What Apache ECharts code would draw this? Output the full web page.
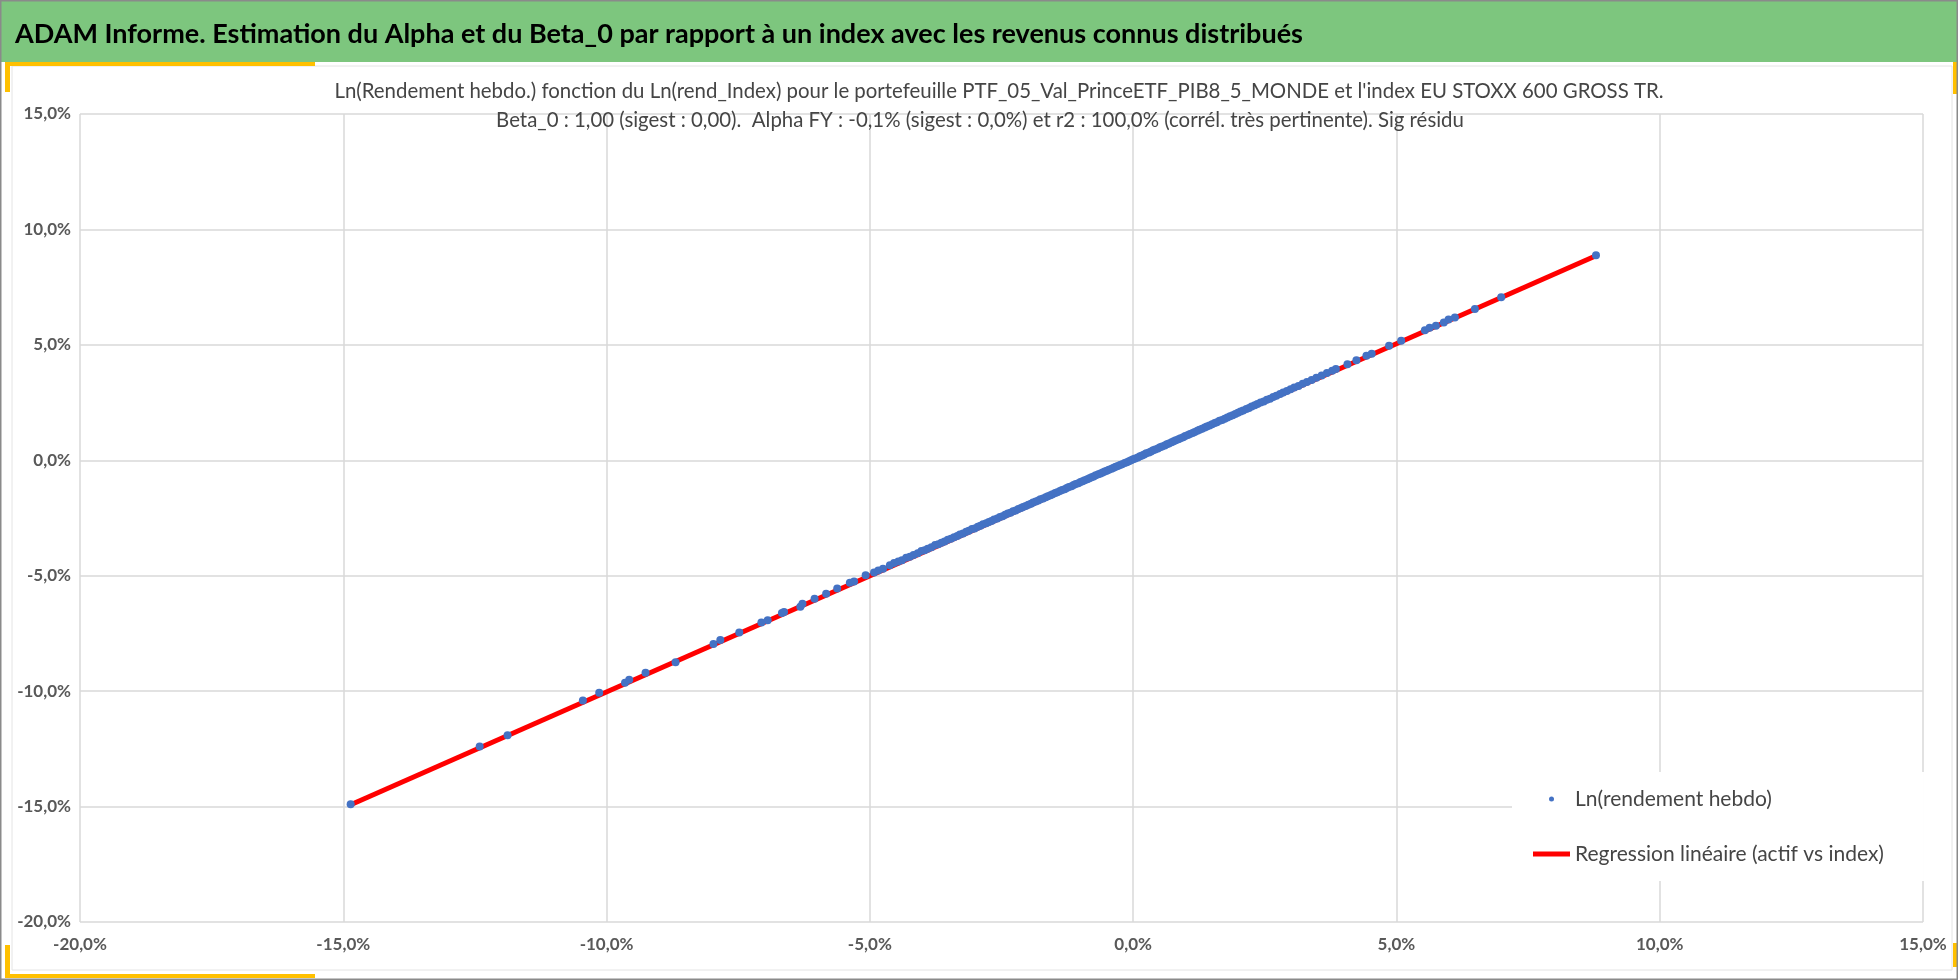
<!DOCTYPE html>
<html>
<head>
<meta charset="utf-8">
<script src="https://cdn.jsdelivr.net/npm/echarts@6/dist/echarts.min.js"></script>
<style>
  html, body { margin: 0; padding: 0; background: #fff; }
  #chart { width: 1958px; height: 980px; }
</style>
</head>
<body>
<div id="chart"></div>
<script>
// weekly log returns, in %: [index, portfolio]
const leftTail = [
  [-14.86, -14.90], [-12.41, -12.40], [-11.88, -11.91], [-10.45, -10.40], [-10.14, -10.07],
  [-9.65, -9.64], [-9.57, -9.51], [-9.26, -9.20], [-8.69, -8.75], [-7.97, -7.96],
  [-7.84, -7.79], [-7.48, -7.46], [-7.06, -7.03], [-6.94, -6.93], [-6.67, -6.62],
  [-6.63, -6.57], [-6.32, -6.34], [-6.28, -6.21], [-6.05, -6.00], [-5.83, -5.78],
  [-5.62, -5.55], [-5.38, -5.30], [-5.30, -5.25], [-5.08, -4.98], [-4.92, -4.86],
  [-4.84, -4.77], [-4.75, -4.70], [-4.62, -4.55], [-4.54, -4.45]
];
const core = [
  [-4.46, -4.38], [-4.39, -4.33], [-4.31, -4.22], [-4.24, -4.18], [-4.17, -4.10], [-4.09, -4.03],
  [-4.02, -3.93], [-3.96, -3.90], [-3.90, -3.83], [-3.83, -3.77], [-3.76, -3.67], [-3.70, -3.64],
  [-3.64, -3.57], [-3.58, -3.52], [-3.52, -3.44], [-3.46, -3.40], [-3.40, -3.33], [-3.34, -3.28],
  [-3.29, -3.21], [-3.23, -3.17], [-3.17, -3.10], [-3.12, -3.05], [-3.06, -2.98], [-3.01, -2.95],
  [-2.95, -2.88], [-2.90, -2.84], [-2.85, -2.77], [-2.79, -2.73], [-2.74, -2.67], [-2.69, -2.63],
  [-2.64, -2.56], [-2.58, -2.52], [-2.53, -2.46], [-2.48, -2.42], [-2.43, -2.36], [-2.38, -2.31],
  [-2.33, -2.27], [-2.28, -2.21], [-2.23, -2.17], [-2.18, -2.11], [-2.13, -2.07], [-2.09, -2.02],
  [-2.04, -1.98], [-1.99, -1.93], [-1.94, -1.88], [-1.90, -1.83], [-1.85, -1.79], [-1.80, -1.74],
  [-1.76, -1.69], [-1.71, -1.65], [-1.66, -1.60], [-1.62, -1.56], [-1.57, -1.51], [-1.53, -1.47],
  [-1.48, -1.42], [-1.44, -1.38], [-1.39, -1.33], [-1.35, -1.29], [-1.30, -1.25], [-1.26, -1.20],
  [-1.22, -1.16], [-1.17, -1.12], [-1.13, -1.07], [-1.09, -1.03], [-1.04, -0.99], [-1.00, -0.94],
  [-0.96, -0.91], [-0.92, -0.86], [-0.87, -0.82], [-0.83, -0.78], [-0.79, -0.73], [-0.75, -0.70],
  [-0.71, -0.65], [-0.66, -0.61], [-0.62, -0.57], [-0.58, -0.53], [-0.54, -0.49], [-0.50, -0.45],
  [-0.46, -0.41], [-0.41, -0.37], [-0.37, -0.32], [-0.33, -0.28], [-0.29, -0.25], [-0.25, -0.20],
  [-0.21, -0.17], [-0.16, -0.12], [-0.12, -0.08], [-0.08, -0.04], [-0.04, 0.00], [0.00, 0.04],
  [0.04, 0.08], [0.09, 0.12], [0.13, 0.17], [0.17, 0.21], [0.21, 0.25], [0.25, 0.30],
  [0.30, 0.34], [0.34, 0.38], [0.38, 0.43], [0.42, 0.47], [0.47, 0.51], [0.51, 0.56],
  [0.55, 0.60], [0.60, 0.64], [0.64, 0.69], [0.68, 0.73], [0.73, 0.78], [0.77, 0.82],
  [0.81, 0.87], [0.86, 0.91], [0.90, 0.95], [0.95, 1.00], [0.99, 1.05], [1.04, 1.09],
  [1.08, 1.14], [1.13, 1.18], [1.17, 1.23], [1.22, 1.28], [1.26, 1.32], [1.31, 1.37],
  [1.36, 1.42], [1.40, 1.46], [1.45, 1.51], [1.50, 1.56], [1.55, 1.61], [1.59, 1.65],
  [1.64, 1.71], [1.69, 1.75], [1.74, 1.80], [1.79, 1.85], [1.84, 1.91], [1.89, 1.95],
  [1.94, 2.01], [1.99, 2.06], [2.04, 2.11], [2.09, 2.16], [2.15, 2.22], [2.20, 2.27],
  [2.25, 2.33], [2.31, 2.38], [2.36, 2.44], [2.42, 2.50], [2.48, 2.55], [2.54, 2.62],
  [2.60, 2.67], [2.66, 2.74], [2.72, 2.80], [2.79, 2.87], [2.85, 2.94], [2.92, 3.00],
  [2.99, 3.08], [3.06, 3.15], [3.14, 3.22], [3.22, 3.31], [3.30, 3.39], [3.39, 3.48],
  [3.48, 3.58], [3.58, 3.67], [3.68, 3.78], [3.78, 3.88]
];
const rightTail = [
  [3.85, 3.95], [4.07, 4.16], [4.24, 4.33], [4.43, 4.53], [4.53, 4.62], [4.86, 4.96],
  [5.09, 5.18], [5.54, 5.63], [5.63, 5.74], [5.75, 5.83], [5.90, 5.97], [5.99, 6.10],
  [6.11, 6.18], [6.49, 6.55], [6.99, 7.06], [8.79, 8.88]
];
// regression line ends
const regLine = [[-14.86, -14.92], [8.79, 8.86]];
const axisTicks = [-20, -15, -10, -5, 0, 5, 10, 15];

const mainTitle = "ADAM Informe. Estimation du Alpha et du Beta_0 par rapport à un index avec les revenus connus distribués";
const subTitle1 = "Ln(Rendement hebdo.) fonction du Ln(rend_Index) pour le portefeuille PTF_05_Val_PrinceETF_PIB8_5_MONDE et l'index EU STOXX 600 GROSS TR.";
const subTitle2 = "Beta_0 : 1,00 (sigest : 0,00).  Alpha FY : -0,1% (sigest : 0,0%) et r2 : 100,0% (corrél. très pertinente). Sig résidu";
const serieNames = ['Ln(rendement hebdo)', 'Regression linéaire (actif vs index)'];

const font = 'Lato, "Open Sans", sans-serif';
const grey = '#595959';
const darkGrey = '#454545';
const gold = '#FFC000';
const fmtPct = v => v.toFixed(1).replace('.', ',') + '%';

const chart = echarts.init(document.getElementById('chart'));

const axisBase = {
  type: 'value',
  min: axisTicks[0],
  max: axisTicks[axisTicks.length - 1],
  interval: 5,
  axisLine: { show: false, onZero: false },
  axisTick: { show: false },
  splitLine: { lineStyle: { color: '#d9d9d9', width: 1.5 } },
  axisLabel: { formatter: fmtPct, color: grey, fontFamily: font, fontSize: 17, fontWeight: 'bold' }
};

chart.setOption({
  backgroundColor: '#fff',
  animation: false,
  grid: { left: 80, right: 35, top: 114, bottom: 58 },
  xAxis: Object.assign({}, axisBase, { axisLabel: Object.assign({}, axisBase.axisLabel, { margin: 14 }) }),
  yAxis: Object.assign({}, axisBase, { axisLabel: Object.assign({}, axisBase.axisLabel, { margin: 9 }) }),
  legend: {
    orient: 'vertical',
    left: 1512,
    top: 772,
    padding: [15, 40, 15, 21],
    backgroundColor: '#fff',
    itemWidth: 37,
    itemHeight: 5,
    itemGap: 31,
    textStyle: { color: darkGrey, fontFamily: font, fontSize: 21, lineHeight: 24 },
    data: [
      { name: serieNames[0], icon: 'circle' },
      { name: serieNames[1], icon: 'rect' }
    ]
  },
  graphic: [
    { type: 'rect', shape: { x: 0, y: 0, width: 1958, height: 62 }, style: { fill: '#7DC67E' }, z: 0 },
    { type: 'rect', shape: { x: 0.5, y: 0.5, width: 1957, height: 979 }, style: { fill: 'none', stroke: '#8a8a8a', lineWidth: 2 }, z: 10 },
    { type: 'rect', shape: { x: 5, y: 62, width: 310, height: 4 }, style: { fill: gold }, z: 5 },
    { type: 'rect', shape: { x: 5, y: 62, width: 5, height: 30 }, style: { fill: gold }, z: 5 },
    { type: 'rect', shape: { x: 5, y: 974, width: 310, height: 4 }, style: { fill: gold }, z: 5 },
    { type: 'rect', shape: { x: 5, y: 945, width: 5, height: 33 }, style: { fill: gold }, z: 5 },
    { type: 'rect', shape: { x: 1953, y: 62, width: 4, height: 32 }, style: { fill: gold }, z: 5 },
    { type: 'rect', shape: { x: 1953, y: 943, width: 4, height: 24 }, style: { fill: gold }, z: 5 },
    { type: 'rect', shape: { x: 12, y: 66, width: 1940, height: 904 }, style: { fill: 'none', stroke: '#e4e4e4', lineWidth: 1 }, z: 1 },
    {
      type: 'text', x: 15, y: 34, z: 6,
      style: { text: mainTitle, fill: '#000', font: 'bold 27px ' + font, verticalAlign: 'middle' }
    },
    {
      type: 'text', x: 999, y: 91, z: 6,
      style: { text: subTitle1, fill: darkGrey, font: '20.4px ' + font, align: 'center', verticalAlign: 'middle' }
    },
    {
      type: 'text', x: 980, y: 120, z: 6,
      style: { text: subTitle2, fill: darkGrey, font: '20.4px ' + font, align: 'center', verticalAlign: 'middle' }
    }
  ],
  series: [
    {
      name: serieNames[1],
      type: 'line',
      data: regLine,
      symbol: 'none',
      lineStyle: { color: '#FF0000', width: 5 },
      itemStyle: { color: '#FF0000' },
      z: 2
    },
    {
      name: serieNames[0],
      type: 'scatter',
      data: leftTail.concat(core, rightTail),
      symbolSize: 8,
      itemStyle: { color: '#4472C4', opacity: 1 },
      z: 3
    }
  ]
});
</script>
</body>
</html>
